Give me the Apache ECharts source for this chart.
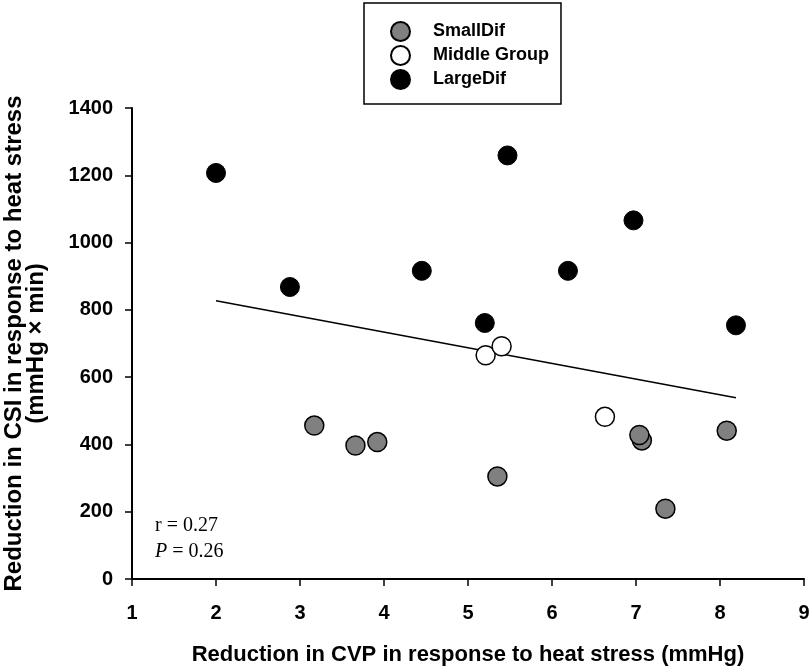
<!DOCTYPE html>
<html>
<head>
<meta charset="utf-8">
<script src="https://cdn.jsdelivr.net/npm/echarts@6/dist/echarts.min.js"></script>
<style>
  html, body { margin: 0; padding: 0; background: #fff; }
  #chart { width: 812px; height: 666px; }
</style>
</head>
<body>
<div id="chart"></div>
<script>
// ---- data ----
const smallDifX = [3.17, 3.66, 3.92, 5.35, 7.07, 7.04, 8.08, 7.35];
const smallDifY = [456, 397, 407, 305, 412, 428, 441, 209];
const middleX = [5.21, 5.40, 6.63];
const middleY = [665, 692, 482];
const largeX = [2.00, 2.88, 4.45, 5.20, 5.47, 6.19, 6.97, 8.19];
const largeY = [1207, 868, 916, 761, 1259, 916, 1066, 754];
const trendX = [2.0, 8.19];
const trendY = [827, 539];
const seriesNames = ['SmallDif', 'Middle Group', 'LargeDif'];
const xTitle = 'Reduction in CVP in response to heat stress (mmHg)';
const yTitle = 'Reduction in CSI in response to heat stress\n(mmHg \u00d7 min)';
const statR = 'r = 0.27';
const statP = '{i|P} = 0.26';

const pairs = (xs, ys) => xs.map((x, i) => [x, ys[i]]);
const sans = '"Liberation Sans", Arial, sans-serif';
const serif = '"Liberation Serif", "Times New Roman", serif';

const chart = echarts.init(document.getElementById('chart'), null, { renderer: 'canvas' });
chart.setOption({
  animation: false,
  backgroundColor: '#fff',
  grid: { left: 132, right: 8, top: 108, bottom: 87, containLabel: false, outerBoundsMode: 'none' },
  legend: {
    data: seriesNames,
    orient: 'vertical',
    left: 364, top: 3,
    padding: [18, 12, 14, 26],
    itemWidth: 19, itemHeight: 19, itemGap: 3,
    borderColor: '#000', borderWidth: 1.5,
    textStyle: { fontFamily: sans, fontWeight: 'bold', fontSize: 18, color: '#000', padding: [0, 0, 0, 18] }
  },
  xAxis: {
    type: 'value', min: 1, max: 9, interval: 1,
    name: xTitle, nameLocation: 'middle', nameGap: 65,
    nameTextStyle: { fontFamily: sans, fontWeight: 'bold', fontSize: 22, color: '#000' },
    axisLine: { show: true, onZero: false, lineStyle: { color: '#000', width: 2 } },
    axisTick: { show: true, inside: false, length: 7, lineStyle: { color: '#000', width: 1.5 } },
    axisLabel: { fontFamily: sans, fontWeight: 'bold', fontSize: 20, color: '#000', margin: 24 },
    splitLine: { show: false }
  },
  yAxis: {
    type: 'value', min: 0, max: 1400, interval: 200,
    name: yTitle, nameLocation: 'middle', nameGap: 85, nameRotate: 90,
    nameTextStyle: { fontFamily: sans, fontWeight: 'bold', fontSize: 24, color: '#000', lineHeight: 22, align: 'center' },
    axisLine: { show: true, onZero: false, lineStyle: { color: '#000', width: 2 } },
    axisTick: { show: true, inside: false, length: 7, lineStyle: { color: '#000', width: 1.5 } },
    axisLabel: { fontFamily: sans, fontWeight: 'bold', fontSize: 20, color: '#000', margin: 19,
      formatter: (v) => String(v) },
    splitLine: { show: false }
  },
  graphic: [
    { type: 'text', left: 155, top: 516, style: { text: statR, font: '20px ' + serif, fill: '#000' } },
    { type: 'text', left: 155, top: 542, style: { text: statP, font: '20px ' + serif, fill: '#000',
      rich: { i: { fontStyle: 'italic', fontFamily: serif, fontSize: 20 } } } }
  ],
  series: [
    {
      name: 'trend', type: 'line', data: pairs(trendX, trendY),
      showSymbol: false, symbol: 'none', silent: true,
      lineStyle: { color: '#000', width: 1.5 }, z: 1
    },
    {
      name: seriesNames[0], type: 'scatter', data: pairs(smallDifX, smallDifY),
      symbol: 'circle', symbolSize: 19,
      itemStyle: { color: '#808080', borderColor: '#000', borderWidth: 1.5, opacity: 1 }, z: 3
    },
    {
      name: seriesNames[1], type: 'scatter', data: pairs(middleX, middleY),
      symbol: 'circle', symbolSize: 19,
      itemStyle: { color: '#fff', borderColor: '#000', borderWidth: 1.5, opacity: 1 }, z: 3
    },
    {
      name: seriesNames[2], type: 'scatter', data: pairs(largeX, largeY),
      symbol: 'circle', symbolSize: 19,
      itemStyle: { color: '#000', borderColor: '#000', borderWidth: 1, opacity: 1 }, z: 3
    }
  ]
});
</script>
</body>
</html>
